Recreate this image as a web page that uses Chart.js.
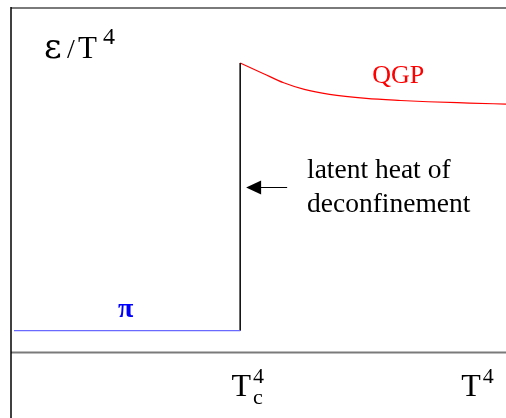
<!DOCTYPE html>
<html>
<head>
<meta charset="utf-8">
<script src="https://cdn.jsdelivr.net/npm/chart.js@4/dist/chart.umd.min.js"></script>
<style>
  html, body { margin: 0; padding: 0; background: #fff; }
  canvas { display: block; }
</style>
</head>
<body>
<canvas id="chart" width="506" height="418"></canvas>
<script>
// x = T^4 in units of Tc^4, y = eps/T^4
const xRange = [0, 2.16];
const yRange = [-3.1, 16.2];

// hadron (pion) gas
const pionX = [0.013, 1.0];
const pionY = [1.0, 1.0];

// jump at Tc (latent heat)
const jumpX = [1.0, 1.0];
const jumpY = [1.0, 13.57];

// QGP branch
const qgpX = [1.0, 1.10, 1.19, 1.28, 1.39, 1.55, 1.70, 1.82, 2.0, 2.16];
const qgpY = [13.57, 13.08, 12.64, 12.33, 12.10, 11.91, 11.81, 11.75, 11.69, 11.64];

// axis labels along T^4
const tickValues = [0.962, 1.965];
const tickSubs = ['c', ''];
const tickSups = ['4', '4'];

const seriesNames = ['π', 'jump', 'QGP'];

function toPoints(xs, ys) {
    return xs.map((x, i) => ({ x: x, y: ys[i] }));
}

const serif = '"Liberation Serif", "Times New Roman", serif';

//draws frame, axis line, labels and the arrow
const decorations = {
    id: 'decorations',
    beforeDatasetsDraw(chart) {
        let ctx = chart.ctx;
        let sx = chart.scales.x;
        let sy = chart.scales.y;
        let area = chart.chartArea;
        let x0 = sx.getPixelForValue(0);
        let y0 = sy.getPixelForValue(0);
        ctx.save();
        // top frame
        ctx.strokeStyle = '#7a7a7a';
        ctx.lineWidth = 2;
        ctx.beginPath();
        ctx.moveTo(x0, area.top + 1);
        ctx.lineTo(area.right, area.top + 1);
        ctx.stroke();
        // T^4 axis
        ctx.beginPath();
        ctx.moveTo(x0, y0 + 0.5);
        ctx.lineTo(area.right, y0 + 0.5);
        ctx.stroke();
        // left frame
        ctx.strokeStyle = '#000';
        ctx.lineWidth = 1.5;
        ctx.beginPath();
        ctx.moveTo(x0, area.top);
        ctx.lineTo(x0, area.bottom);
        ctx.stroke();
        ctx.restore();
    },
    afterDraw(chart) {
        let ctx = chart.ctx;
        let sx = chart.scales.x;
        let sy = chart.scales.y;
        ctx.save();
        ctx.textBaseline = 'alphabetic';
        ctx.textAlign = 'left';

        // y label eps / T^4
        ctx.fillStyle = '#000';
        ctx.font = '34px "DejaVu Serif", serif';
        ctx.fillText('ε', 44, 58);
        ctx.font = '28px ' + serif;
        ctx.fillText('/', 67, 58);
        ctx.font = '31px ' + serif;
        ctx.fillText('T', 78, 58);
        ctx.font = '24px ' + serif;
        ctx.fillText('4', 103, 44);

        // tick labels
        for (let i = 0; i < tickValues.length; i++) {
            let px = sx.getPixelForValue(tickValues[i]);
            ctx.font = '32px ' + serif;
            ctx.fillText('T', px, 396);
            let w = ctx.measureText('T').width;
            ctx.font = '22px ' + serif;
            if (tickSubs[i]) {
                ctx.fillText(tickSubs[i], px + w + 2, 404);
            }
            ctx.fillText(tickSups[i], px + w + 2, 383);
        }

        // pi label
        ctx.fillStyle = '#0000ff';
        ctx.font = 'bold 28px ' + serif;
        ctx.textAlign = 'center';
        ctx.fillText(seriesNames[0], sx.getPixelForValue(0.5), 317);

        // QGP label
        ctx.fillStyle = '#ff0000';
        ctx.font = '26px ' + serif;
        ctx.fillText(seriesNames[2], sx.getPixelForValue(1.69), 83);

        // arrow + text
        let tipX = sx.getPixelForValue(1.026);
        let tailX = sx.getPixelForValue(1.205);
        let ay = Math.round(sy.getPixelForValue(7.76)) + 0.5;
        ctx.strokeStyle = '#000';
        ctx.fillStyle = '#000';
        ctx.lineWidth = 1;
        ctx.beginPath();
        ctx.moveTo(tailX, ay);
        ctx.lineTo(tipX + 10, ay);
        ctx.stroke();
        ctx.beginPath();
        ctx.moveTo(tipX, ay);
        ctx.lineTo(tipX + 15, ay - 7);
        ctx.lineTo(tipX + 15, ay + 7);
        ctx.closePath();
        ctx.fill();

        ctx.textAlign = 'left';
        ctx.font = '27.5px ' + serif;
        ctx.fillText('latent heat of', 307, 178);
        ctx.fillText('deconfinement', 307, 212);
        ctx.restore();
    }
};

new Chart(document.getElementById('chart'), {
    type: 'scatter',
    data: {
        datasets: [{
            label: seriesNames[0],
            data: toPoints(pionX, pionY),
            showLine: true,
            borderColor: '#6a6aff',
            borderWidth: 1.2,
            pointRadius: 0
        }, {
            label: seriesNames[1],
            data: toPoints(jumpX, jumpY),
            showLine: true,
            borderColor: '#000',
            borderWidth: 1.5,
            pointRadius: 0
        }, {
            label: seriesNames[2],
            data: toPoints(qgpX, qgpY),
            showLine: true,
            borderColor: '#ff0000',
            borderWidth: 1.2,
            pointRadius: 0,
            cubicInterpolationMode: 'monotone'
        }]
    },
    options: {
        responsive: false,
        animation: false,
        devicePixelRatio: 1,
        layout: { padding: { left: 11, top: 7, right: 0, bottom: 0 } },
        plugins: {
            legend: { display: false },
            tooltip: { enabled: false }
        },
        scales: {
            x: { type: 'linear', min: xRange[0], max: xRange[1], display: false },
            y: { type: 'linear', min: yRange[0], max: yRange[1], display: false }
        }
    },
    plugins: [decorations]
});
</script>
</body>
</html>
